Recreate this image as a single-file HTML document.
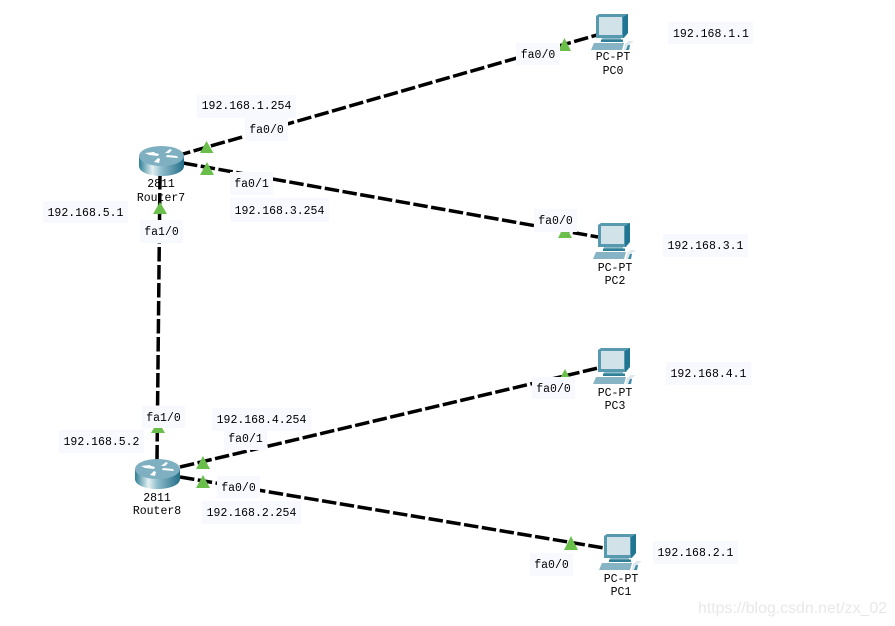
<!DOCTYPE html>
<html>
<head>
<meta charset="utf-8">
<style>
html,body{margin:0;padding:0;background:#fff;width:895px;height:626px;overflow:hidden}
svg{display:block}
text{font-family:"Liberation Mono",monospace;font-size:11.5px;fill:#000;text-anchor:middle}
.b{fill:#f8f9fe}
.l{stroke:#000;stroke-width:3.5;stroke-dasharray:14.500 3.500;fill:none}
.t{fill:#6abf4b}
.wm{font-family:"Liberation Sans",sans-serif;font-size:15.900px;fill:#e8e8e8;text-anchor:start}
</style>
</head>
<body>
<svg width="895" height="626" viewBox="0 0 895 626" xmlns="http://www.w3.org/2000/svg">
<defs>
<linearGradient id="cy" x1="0" x2="1" y1="0" y2="0">
<stop offset="0" stop-color="#2f7f96"/><stop offset=".3" stop-color="#e4f0f3"/><stop offset=".5" stop-color="#8fbccb"/><stop offset="1" stop-color="#236f88"/>
</linearGradient>
<g id="router">
<path d="M0 10V20C0 26 10 30 22.500 30S45 26 45 20V10Z" fill="url(#cy)"/>
<ellipse cx="22.500" cy="10" rx="22.500" ry="10" fill="#7fb0c2"/>
<path d="M6 7l9 -1 1 1 4 1 -1 2 -9 -1zM26 7l5 -4 2 1 -3 3zM28 9l10 1 1 2 -12 -1zM15 16l4 -4 2 1 -1 4z" fill="#fff"/>
</g>
<g id="pc">
<path d="M0 2L3 0H32V19L28 24H0Z" fill="#5799af"/>
<path d="M27 3L32 0V19L27 24Z" fill="#1f7592"/>
<rect x="3" y="3" width="23" height="18" fill="#d2e2e9"/>
<rect x="6" y="24" width="19" height="1.500" fill="#8db9c8"/>
<rect x="5" y="25.500" width="22" height="2.500" fill="#2f7f98"/>
<path d="M-2 29H28L26 36H-5Z" fill="#86b4c4"/>
<path d="M29 30L33 27H38L34 30L33 36H28Z" fill="#dce8ec"/>
<path d="M32 31h2l-1 5h-3z" fill="#3f8ba3"/>
</g>
</defs>

<rect width="895" height="626" fill="#fff"/>

<line class="l" x1="183" y1="154" x2="597" y2="35" stroke-dashoffset="7"/>
<line class="l" x1="183" y1="163" x2="598" y2="237"/>
<line class="l" x1="160" y1="175" x2="157" y2="460"/>
<line class="l" x1="180" y1="467" x2="598" y2="368"/>
<line class="l" x1="180" y1="477" x2="604" y2="548"/>

<polygon class="t" points="206.500,141 200,153 213.500,153"/>
<polygon class="t" points="207,162 200,175 214,175"/>
<polygon class="t" points="160,202 153,214 167,214"/>
<polygon class="t" points="564.500,38 558,51 571,51"/>
<polygon class="t" points="565,225 558,238 572,238"/>
<polygon class="t" points="565,369 558,382 572,382"/>
<polygon class="t" points="158,421 151,433 165,433"/>
<polygon class="t" points="203,456 196,469 210,469"/>
<polygon class="t" points="203,475 196,488 210,488"/>
<polygon class="t" points="571,536 564,550 578,550"/>

<use href="#router" x="139" y="146"/>
<use href="#router" x="135" y="459"/>
<use href="#pc" x="596" y="14"/>
<use href="#pc" x="598" y="223"/>
<use href="#pc" x="598" y="348"/>
<use href="#pc" x="604" y="534"/>

<rect class="b" x="668" y="22" width="85" height="22"/><text x="711" y="37">192.168.1.1</text>
<rect class="b" x="516" y="43" width="44" height="22"/><text x="538" y="58">fa0/0</text>
<text x="613" y="60">PC-PT</text><text x="613" y="74">PC0</text>

<rect class="b" x="197" y="95" width="99" height="23"/><text x="246.500" y="109">192.168.1.254</text>
<rect class="b" x="245" y="118" width="43" height="23"/><text x="266.500" y="133">fa0/0</text>
<rect class="b" x="230" y="172" width="43" height="23"/><text x="251.500" y="187">fa0/1</text>
<rect class="b" x="230" y="198" width="99" height="24"/><text x="279.500" y="214">192.168.3.254</text>
<rect class="b" x="43" y="201" width="85" height="22"/><text x="85.500" y="216">192.168.5.1</text>
<rect class="b" x="140" y="220" width="43" height="23"/><text x="161.500" y="235">fa1/0</text>
<text x="161" y="187">2811</text><text x="161" y="201">Router7</text>

<rect class="b" x="534" y="209" width="43" height="23"/><text x="555.500" y="224">fa0/0</text>
<rect class="b" x="663" y="234" width="85" height="23"/><text x="705.500" y="249">192.168.3.1</text>
<text x="615" y="271">PC-PT</text><text x="615" y="284">PC2</text>

<rect class="b" x="666" y="362" width="85" height="23"/><text x="708.500" y="377">192.168.4.1</text>
<rect class="b" x="532" y="377" width="43" height="22"/><text x="553.500" y="392">fa0/0</text>
<text x="615" y="396">PC-PT</text><text x="615" y="409">PC3</text>

<rect class="b" x="142" y="406" width="43" height="22"/><text x="163.500" y="421">fa1/0</text>
<rect class="b" x="212" y="408" width="99" height="23"/><text x="261.500" y="423">192.168.4.254</text>
<rect class="b" x="224" y="431" width="43" height="19"/><text x="245.500" y="442">fa0/1</text>
<rect class="b" x="59" y="430" width="85" height="23"/><text x="101.500" y="445">192.168.5.2</text>
<rect class="b" x="217" y="476" width="43" height="22"/><text x="238.500" y="491">fa0/0</text>
<rect class="b" x="202" y="501" width="99" height="23"/><text x="251.500" y="516">192.168.2.254</text>
<text x="157" y="501">2811</text><text x="157" y="514">Router8</text>

<rect class="b" x="653" y="541" width="85" height="23"/><text x="695.500" y="556">192.168.2.1</text>
<rect class="b" x="530" y="553" width="43" height="23"/><text x="551.500" y="568">fa0/0</text>
<text x="621" y="582">PC-PT</text><text x="621" y="595">PC1</text>

<text class="wm" x="698" y="613">https://blog.csdn.net/zx_02</text>
</svg>
</body>
</html>
